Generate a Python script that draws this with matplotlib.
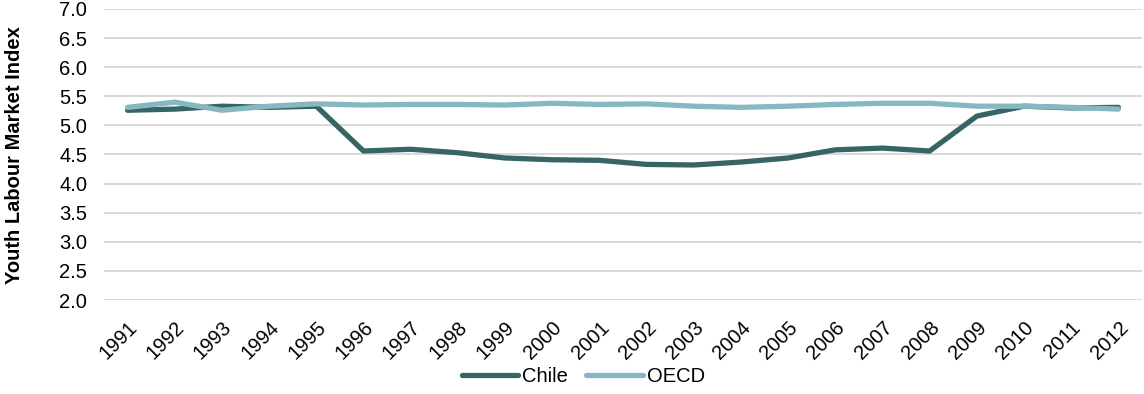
import matplotlib
matplotlib.use("Agg")
import matplotlib.pyplot as plt

plt.rcParams['font.family'] = ['Liberation Sans', 'DejaVu Sans']

years = [str(y) for y in range(1991, 2013)]
chile = [5.26, 5.28, 5.33, 5.31, 5.33, 4.56, 4.59, 4.53, 4.44, 4.41, 4.40,
         4.33, 4.32, 4.37, 4.44, 4.58, 4.61, 4.56, 5.16, 5.33, 5.30, 5.31]
oecd = [5.31, 5.40, 5.26, 5.33, 5.37, 5.35, 5.36, 5.36, 5.35, 5.38, 5.36,
        5.37, 5.33, 5.31, 5.33, 5.36, 5.38, 5.38, 5.33, 5.33, 5.31, 5.28]
y_ticks = [2.0, 2.5, 3.0, 3.5, 4.0, 4.5, 5.0, 5.5, 6.0, 6.5, 7.0]

FS = 14.5

fig = plt.figure(figsize=(11.44, 3.94), dpi=100)
ax = fig.add_axes([104 / 1144, 1 - 300 / 394, (1142 - 104) / 1144, (300 - 9) / 394])

x = list(range(len(years)))
ax.plot(x, chile, color='#376566', lw=3.8, solid_capstyle='round', label='Chile', zorder=3)
ax.plot(x, oecd, color='#86b8c1', lw=3.8, solid_capstyle='round', label='OECD', zorder=3)

ax.set_xlim(-0.5, len(years) - 0.5)
ax.set_ylim(2.0, 7.0)
ax.set_yticks(y_ticks)
ax.set_yticklabels([f"{v:.1f}" for v in y_ticks], fontsize=FS)
ax.set_xticks(x)
ax.set_xticklabels(years, rotation=45, ha='right', va='top', rotation_mode='anchor', fontsize=FS)
ax.tick_params(axis='both', length=0)
ax.tick_params(axis='y', pad=12)
ax.tick_params(axis='x', pad=13)
ax.grid(axis='y', color='#d9d9d9', lw=1.4)
ax.set_axisbelow(True)
for s in ax.spines.values():
    s.set_visible(False)

fig.text(15 / 1144, 1 - 155 / 394, 'Youth Labour Market Index', rotation=90,
         ha='center', va='center', fontsize=FS, fontweight='bold')

fig.legend(loc='center', bbox_to_anchor=(0.51, 1 - 377 / 394), ncol=2, frameon=False,
           fontsize=FS, handlelength=2.8, handletextpad=0.2, columnspacing=0.9)

fig.savefig('out.png', dpi=100)
